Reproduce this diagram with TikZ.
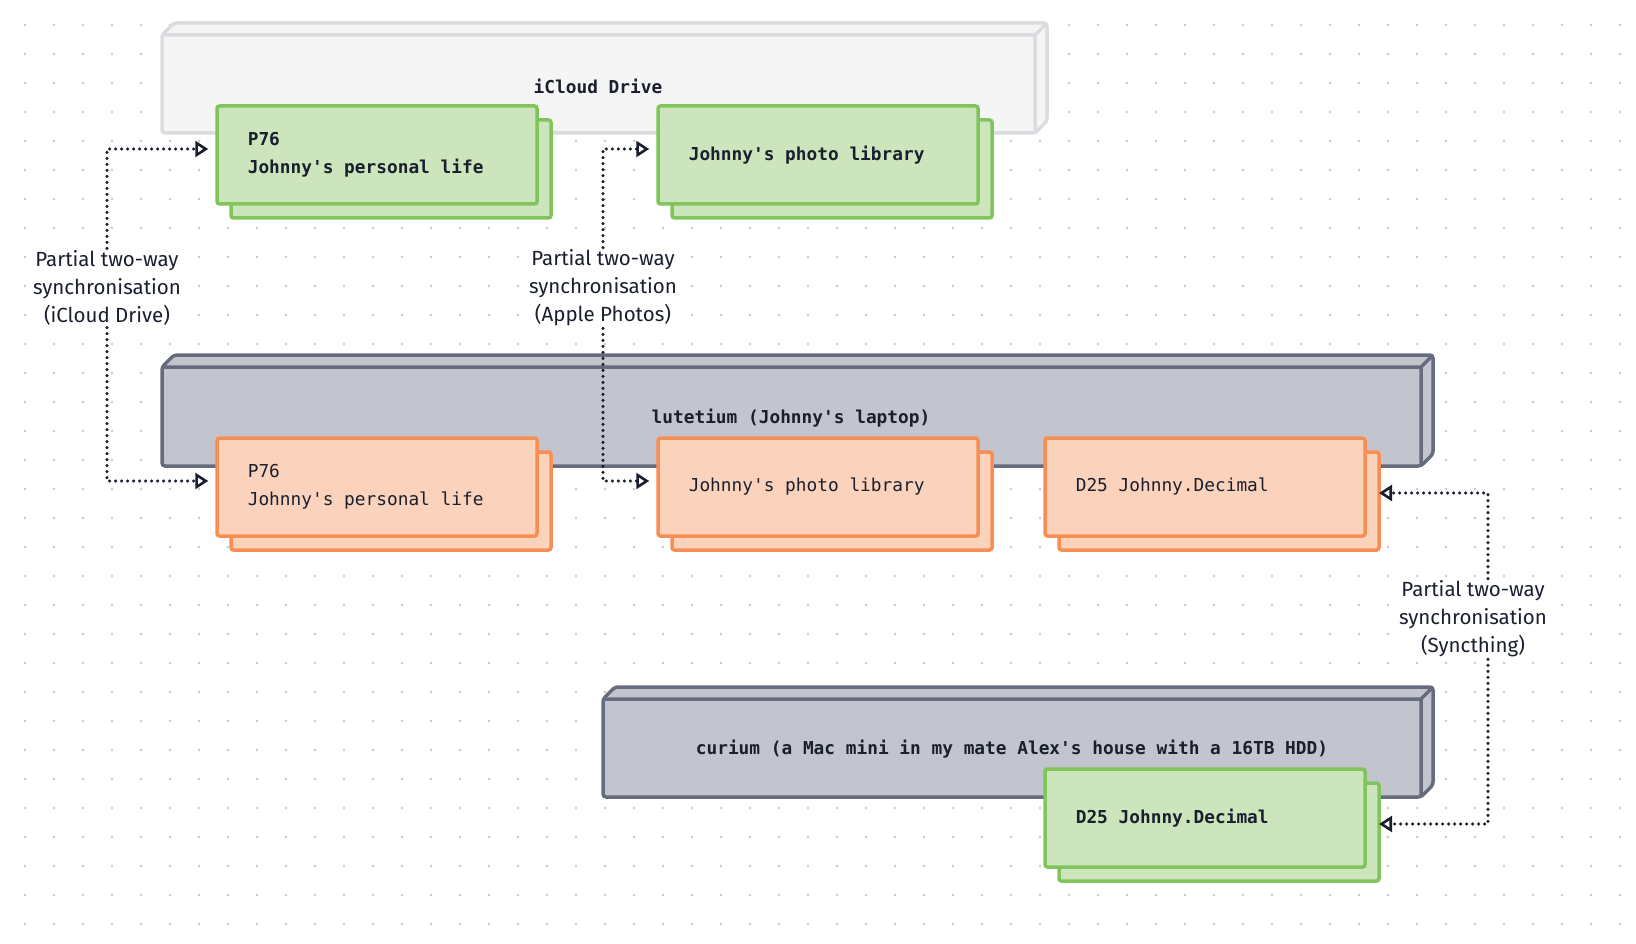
\documentclass[tikz,border=0pt]{standalone}
\usepackage{fontspec}
\setmainfont{Fira Sans}
\newfontfamily\monob{DejaVu Sans Mono}
\usetikzlibrary{arrows.meta}
\definecolor{gfill}{HTML}{CCE5BC}\definecolor{gline}{HTML}{82C45C}
\definecolor{ofill}{HTML}{FBD3BD}\definecolor{oline}{HTML}{F78F54}
\definecolor{sfill}{HTML}{C2C5CD}\definecolor{sline}{HTML}{666B7D}
\definecolor{cfill}{HTML}{F5F5F5}\definecolor{cline}{HTML}{DCDCE0}
\definecolor{ink}{HTML}{1A1F2E}
\tikzset{
 card/.style={draw, line width=3.5pt, rounded corners=2.5pt, minimum width=320pt, minimum height=98pt, inner sep=0pt},
 gcard/.style={card, fill=gfill, draw=gline},
 ocard/.style={card, fill=ofill, draw=oline},
 ctext/.style={font=\monob\fontsize{17.8}{28}\selectfont, text=ink, align=left, anchor=west},
 btitle/.style={font=\monob\bfseries\fontsize{17.8}{20}\selectfont, text=ink},
 lab/.style={font=\fontsize{20.5}{28}\selectfont, text=ink, align=center, fill=white, inner sep=2pt},
 sync/.style={ink, line width=3.4pt, line cap=round, dash pattern=on 0pt off 6pt, -{Triangle[open, length=13pt, width=16pt, line width=2.6pt, line cap=butt]}, shorten >=7pt},
}
\newcommand{\slab}[6]{% x1 y1 x2 y2 fill line
 \fill[#5,rounded corners=3pt] (#1,#2) -- (#1+12,#2-12) -- (#3+12,#2-12) -- (#3+12,#4-12) -- (#3,#4) -- (#1,#4) -- cycle;
 \draw[#6,line width=3.5pt,line join=round,rounded corners=3pt] (#1,#2) -- (#1+12,#2-12) -- (#3+12,#2-12) -- (#3+12,#4-12) -- (#3,#4) -- (#1,#4) -- cycle;
 \draw[#6,line width=3.5pt,line join=round] (#1,#2) -- (#3,#2) -- (#3,#4) (#3,#2) -- (#3+12,#2-12);}
\newcommand{\cardpair}[5]{% name x y style text
 \node[#4] at (#2+14,#3+14) {};
 \node[#4] (#1) at (#2,#3) {};
 \node[ctext] at ([xshift=29pt]#1.west) {#5};}
\begin{document}
\begin{tikzpicture}[x=1pt,y=-1pt]
\useasboundingbox (0,0) rectangle (1636,944);
\foreach \i in {0,...,55}{\foreach \j in {0,...,31}{\fill[black!22] (25+29*\i,25+29*\j) circle (1.3pt);}}
% iCloud
\slab{162}{35}{1035}{133}{cfill}{cline}
\node[btitle] at (598,86) {iCloud Drive};
\cardpair{ci1}{377}{155}{gcard}{\bfseries P76\\\bfseries Johnny's personal life}
\cardpair{ci2}{818}{155}{gcard}{\bfseries Johnny's photo library}
% lutetium
\slab{162}{367}{1421}{466}{sfill}{sline}
\node[btitle] at (791,418) {lutetium (Johnny's laptop)};
\cardpair{lu1}{377}{487}{ocard}{P76\\Johnny's personal life}
\cardpair{lu2}{818}{487}{ocard}{Johnny's photo library}
\cardpair{lu3}{1205}{487}{ocard}{D25 Johnny.Decimal}
% curium
\slab{603}{699}{1421}{797}{sfill}{sline}
\node[btitle] at (1012,749) {curium (a Mac mini in my mate Alex's house with a 16TB HDD)};
\cardpair{cu1}{1205}{818}{gcard}{\bfseries D25 Johnny.Decimal}
% connectors
\node[lab] (l1) at (107,288) {Partial two-way\\synchronisation\\(iCloud Drive)};
\node[lab] (l2) at (603,288) {Partial two-way\\synchronisation\\(Apple Photos)};
\node[lab] (l3) at (1473,619) {Partial two-way\\synchronisation\\(Syncthing)};
\coordinate (r1) at (1379,493); \coordinate (r2) at (1379,824);
\coordinate (x3) at (1488,0);
\draw[sync] (l1.north) |- ([yshift=6pt]ci1.west);
\draw[sync] (l1.south) |- ([yshift=6pt]lu1.west);
\draw[sync] (l2.north) |- ([yshift=6pt]ci2.west);
\draw[sync] (l2.south) |- ([yshift=6pt]lu2.west);
\draw[sync, shorten >=0pt] (x3 |- l3.north) |- (r1);
\draw[sync, shorten >=0pt] (x3 |- l3.south) |- (r2);
\end{tikzpicture}
\end{document}
